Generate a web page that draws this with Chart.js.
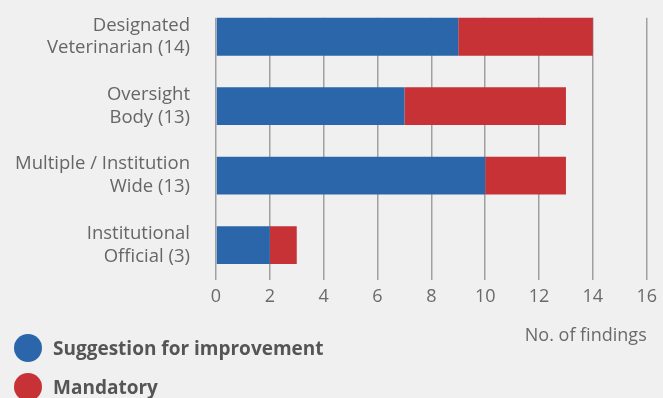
<!DOCTYPE html>
<html>
<head>
<meta charset="utf-8">
<script src="https://cdn.jsdelivr.net/npm/chart.js@4"></script>
<style>
  body { margin: 0; background: #f0f0f0; }
  #wrap { position: relative; width: 663px; height: 398px; }
  #legend { position: absolute; left: 14px; top: 328px; font: bold 19px "Open Sans", sans-serif; color: #555; }
  #legend div { display: flex; align-items: center; height: 39px; }
  #legend span.dot { width: 28px; height: 28px; border-radius: 50%; margin-right: 11px; display: inline-block; }
</style>
</head>
<body>
<div id="wrap">
  <canvas id="findingsChart" width="663" height="398"></canvas>
  <div id="legend"></div>
</div>
<script>
const categories = [
    ['Designated', 'Veterinarian (14)'],
    ['Oversight', 'Body (13)'],
    ['Multiple / Institution', 'Wide (13)'],
    ['Institutional', 'Official (3)']
];
const suggestionValues = [9, 7, 10, 2];
const mandatoryValues = [5, 6, 3, 1];
const seriesNames = ['Suggestion for improvement', 'Mandatory'];
const seriesColors = ['#2b66ab', '#c63236'];

// hide the grid lines above the first bar
const topMask = {
    id: 'topMask',
    beforeDatasetsDraw(chart) {
        const bar = chart.getDatasetMeta(0).data[0];
        const area = chart.chartArea;
        const ctx = chart.ctx;
        ctx.save();
        ctx.fillStyle = '#f0f0f0';
        ctx.fillRect(area.left - 3, area.top - 2, area.right - area.left + 6, bar.y - bar.height / 2 - area.top + 2);
        ctx.restore();
    }
};

const ctx = document.getElementById('findingsChart').getContext('2d');
const chart = new Chart(ctx, {
    type: 'bar',
    data: {
        labels: categories,
        datasets: [
            {
                label: seriesNames[0],
                data: suggestionValues,
                backgroundColor: seriesColors[0],
                barPercentage: 0.545,
                categoryPercentage: 1
            },
            {
                label: seriesNames[1],
                data: mandatoryValues,
                backgroundColor: seriesColors[1],
                barPercentage: 0.545,
                categoryPercentage: 1
            }
        ]
    },
    options: {
        indexAxis: 'y',
        responsive: false,
        animation: false,
        layout: {
            padding: { top: 2, right: 12, bottom: 51, left: 0 }
        },
        scales: {
            x: {
                stacked: true,
                min: 0,
                max: 16,
                border: { display: false },
                grid: { color: '#a0a0a0', lineWidth: 1.5, drawTicks: false },
                ticks: {
                    stepSize: 2,
                    padding: 6,
                    color: '#6a6a6a',
                    font: { family: 'Open Sans', size: 18 }
                },
                title: {
                    display: true,
                    text: 'No. of findings',
                    align: 'end',
                    color: '#6a6a6a',
                    padding: { top: 12, bottom: 0 },
                    font: { family: 'Open Sans', size: 18 }
                }
            },
            y: {
                stacked: true,
                border: { display: false },
                grid: { display: false, drawTicks: false },
                ticks: {
                    padding: 26,
                    color: '#666',
                    font: { family: 'Open Sans', size: 18.5, lineHeight: 1.24 }
                },
                afterFit: function(scale) {
                    scale.width = 216;
                    // labels sit inside their bands, no overflow room needed
                    scale.paddingTop = 0;
                    scale.paddingBottom = 0;
                }
            }
        },
        plugins: {
            legend: { display: false },
            tooltip: { enabled: false }
        }
    },
    plugins: [topMask]
});

const legend = document.getElementById('legend');
seriesNames.forEach((name, i) => {
    const row = document.createElement('div');
    const dot = document.createElement('span');
    dot.className = 'dot';
    dot.style.background = seriesColors[i];
    row.appendChild(dot);
    row.appendChild(document.createTextNode(name));
    legend.appendChild(row);
});
</script>
</body>
</html>
